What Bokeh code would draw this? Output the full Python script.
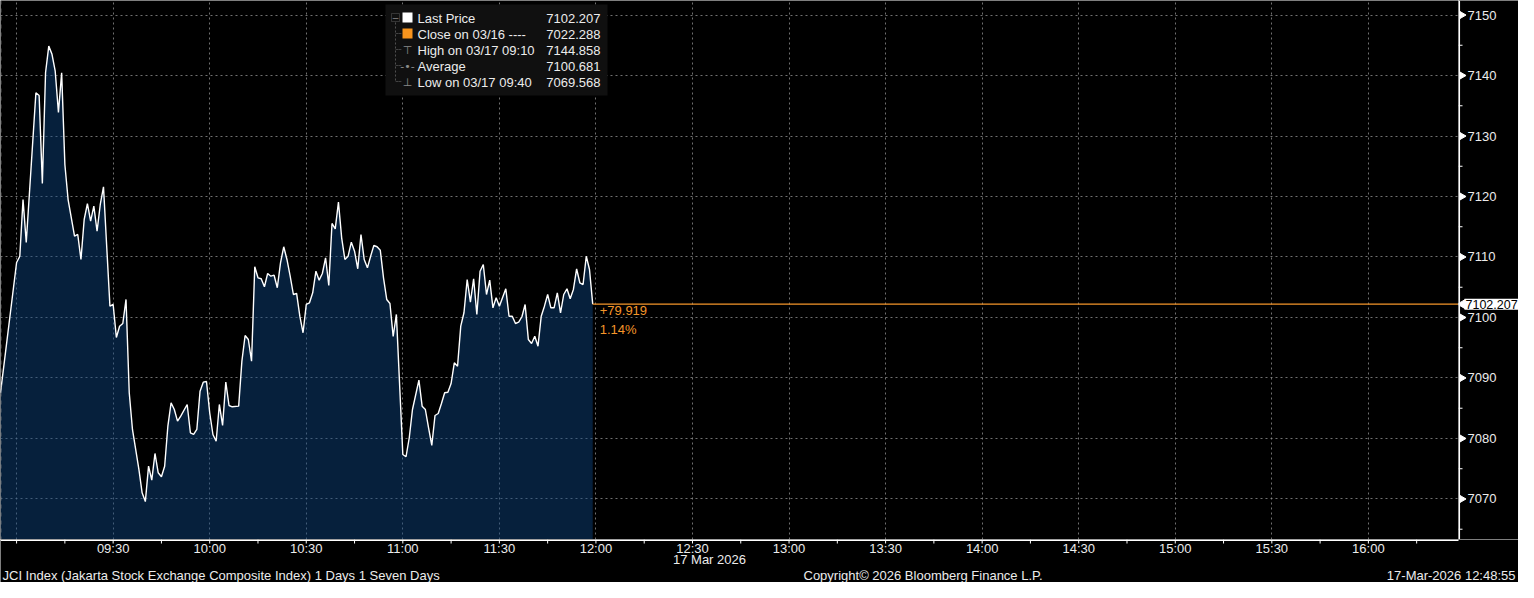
import math
from bokeh.plotting import figure
from bokeh.layouts import column, row
from bokeh.models import Range1d, FixedTicker, Label, BoxAnnotation, Span
from bokeh.core.properties import value
from bokeh.embed import file_html
from bokeh.resources import INLINE

# ---------------- data ----------------
TIMES = [
    "08:55", "09:00", "09:01", "09:02", "09:03",
    "09:06", "09:07", "09:08", "09:09", "09:10", "09:11", "09:12", "09:13", "09:14", "09:15", "09:16",
    "09:18", "09:19", "09:20", "09:21", "09:22", "09:23", "09:24", "09:25", "09:26", "09:27",
    "09:29", "09:30", "09:31", "09:32", "09:33", "09:34", "09:35", "09:36",
    "09:38", "09:39", "09:40", "09:41", "09:42", "09:43", "09:44", "09:45", "09:46", "09:47", "09:48", "09:49", "09:50", "09:51",
    "09:53", "09:54", "09:55", "09:56", "09:57", "09:58", "09:59", "10:00", "10:01", "10:02", "10:03", "10:04", "10:05", "10:06", "10:07",
    "10:09", "10:10", "10:11", "10:12", "10:13", "10:14", "10:15", "10:16", "10:17", "10:18", "10:19",
    "10:20", "10:21", "10:22", "10:23", "10:24", "10:25", "10:26", "10:27", "10:28", "10:29",
    "10:30", "10:31", "10:32", "10:33", "10:34", "10:35", "10:36", "10:37", "10:38", "10:39",
    "10:40", "10:41", "10:42", "10:43", "10:44", "10:45", "10:46", "10:47", "10:48", "10:49",
    "10:50", "10:51", "10:52", "10:53", "10:54", "10:55", "10:56", "10:57", "10:58",
    "11:00", "11:01", "11:02", "11:03",
    "11:05", "11:06", "11:07", "11:08", "11:09", "11:10", "11:11", "11:12", "11:13", "11:14", "11:15", "11:16", "11:17",
    "11:18", "11:19", "11:20", "11:21", "11:22", "11:23", "11:24", "11:25", "11:26", "11:27", "11:28", "11:29", "11:30",
    "11:32", "11:33", "11:34", "11:35", "11:36", "11:37", "11:38", "11:39", "11:40", "11:41", "11:42", "11:43", "11:44",
    "11:45", "11:46", "11:47", "11:48", "11:49", "11:50", "11:51", "11:52", "11:53", "11:54", "11:55", "11:56", "11:57",
    "11:58", "11:59",
]
PRICES = [
    7087.55, 7109.09, 7110.13, 7119.50, 7112.40,
    7137.14, 7136.69, 7122.15, 7140.50, 7144.858, 7143.50, 7140.71, 7133.88, 7140.45, 7125.29, 7119.50,
    7113.44, 7113.72, 7109.59, 7116.20, 7118.84, 7115.92, 7118.40, 7114.26, 7118.68, 7121.60,
    7101.87, 7102.15, 7096.69, 7098.56, 7099.01, 7102.98, 7087.55, 7081.49,
    7074.88, 7071.02, 7069.568, 7075.42, 7073.11, 7077.52, 7074.33, 7073.67, 7075.42, 7082.03, 7085.90, 7084.79, 7082.86, 7083.69,
    7085.62, 7080.94, 7080.66, 7081.49, 7087.82, 7089.31, 7089.42, 7084.25, 7080.66, 7079.55, 7085.62, 7082.15, 7089.31, 7085.45, 7085.24,
    7085.34, 7092.78, 7097.02, 7096.36, 7092.78, 7108.38, 7106.56, 7106.40, 7105.07, 7107.27, 7106.83,
    7106.99, 7104.91, 7109.04, 7111.69, 7109.59, 7106.83, 7103.80, 7103.97, 7100.21, 7097.47,
    7102.15, 7102.43, 7104.08, 7107.65, 7106.17, 7107.27, 7109.87, 7105.29, 7115.54, 7114.66,
    7119.06, 7113.17, 7109.59, 7110.13, 7112.45, 7110.96, 7108.05, 7113.72, 7109.59, 7108.21,
    7110.13, 7111.90, 7111.69, 7111.12, 7106.56, 7102.98, 7102.31, 7096.86, 7100.50,
    7077.36, 7076.98, 7080.12, 7084.79,
    7089.64, 7085.34, 7084.79, 7081.77, 7078.84, 7083.80, 7084.13, 7085.79, 7087.55, 7087.65, 7089.09, 7092.51, 7091.95,
    7098.56, 7100.78, 7106.28, 7102.53, 7106.40, 7100.50, 7107.65, 7108.76, 7103.80, 7106.17, 7101.60, 7103.26, 7101.87,
    7104.74, 7100.21, 7100.21, 7099.01, 7099.22, 7100.12, 7102.15, 7096.36, 7095.70, 7096.91, 7095.26, 7100.21, 7101.87,
    7103.80, 7101.60, 7101.60, 7104.08, 7100.78, 7103.80, 7104.74, 7103.09, 7104.63, 7108.05, 7105.74, 7105.45, 7110.13,
    7107.93, 7102.207,
]
PREV_CLOSE = 7022.288
AVERAGE = 7100.681
PREV_DATE = "03/16"
CUR_DATE = "03/17"
Y_TICKS = [7070, 7080, 7090, 7100, 7110, 7120, 7130, 7140, 7150]
Y_MINOR = [7065, 7075, 7085, 7095, 7105, 7115, 7125, 7135, 7145]
X_TICK_LABELS = ["09:00", "09:30", "10:00", "10:30", "11:00", "11:30", "12:00", "12:30",
                 "13:00", "13:30", "14:00", "14:30", "15:00", "15:30", "16:00"]
X_MINOR_LABELS = ["09:15", "09:45", "10:15", "10:45", "11:15", "11:45", "12:15", "12:45",
                  "13:15", "13:45", "14:15", "14:45", "15:15", "15:45", "16:15"]
DATE_TEXT = "17 Mar 2026"
DATE_AT = "12:30"
FOOT_LEFT = "JCI Index (Jakarta Stock Exchange Composite Index) 1 Days 1 Seven Days"
FOOT_MID = "Copyright\u00a9 2026 Bloomberg Finance L.P."
FOOT_RIGHT = "17-Mar-2026 12:48:55"
X_START, X_END = "08:55", "16:28"
Y_MIN, Y_MAX = 7063.3, 7152.4


def to_min(t):
    h, m = t.split(":")
    return (int(h) - 9) * 60 + int(m)


xs = [to_min(t) for t in TIMES]
n = min(len(xs), len(PRICES))
xs, ys = xs[:n], PRICES[:n]

# ---------------- layout sizes ----------------
W, H = 1518, 582
RW = 60            # right price-axis strip
FW = W - RW        # chart frame width
FH = 539           # chart height
BH = H - FH        # bottom band: time axis + date + footer (43)
FONT = "Liberation Sans"
SYM = "DejaVu Sans"
ORANGE = "#f5962a"
TXT = "#ececec"
FS = "13px"
X0, X1 = to_min(X_START), to_min(X_END)


def plain(width, height, **kw):
    fig = figure(width=width, height=height, output_backend="svg", toolbar_location=None,
                 x_axis_location=None, y_axis_location=None,
                 min_border_left=0, min_border_top=0, min_border_right=0, min_border_bottom=0,
                 background_fill_color="black", border_fill_color="black", outline_line_color=None, **kw)
    fig.xgrid.visible = False
    fig.ygrid.visible = False
    return fig


# ---------------- main chart ----------------
p = plain(FW, FH, x_range=Range1d(X0, X1), y_range=Range1d(Y_MIN, Y_MAX))
xt = [to_min(t) for t in X_TICK_LABELS]
p.xgrid[0].ticker = FixedTicker(ticks=xt)
p.ygrid[0].ticker = FixedTicker(ticks=Y_TICKS)
for g in (p.xgrid[0], p.ygrid[0]):
    g.visible = True
    g.grid_line_color = "#8c8c8c"
    g.grid_line_dash = "2 3"
    g.grid_line_alpha = 0.8

p.add_layout(Span(location=X0 + 0.1, dimension="height", line_color="#8c8c8c",
                  line_dash="4 4", line_width=1))

p.varea(x=xs, y1=Y_MIN, y2=ys, fill_color="#0e4684", fill_alpha=0.45)
p.line(xs, ys, line_color="white", line_width=1.4)

last = ys[-1]
p.line([xs[-1], X1], [last, last], line_color=ORANGE, line_width=1.2)
chg = last - PREV_CLOSE
pct = chg / PREV_CLOSE * 100
p.add_layout(Label(x=xs[-1], y=last, x_offset=7, y_offset=-2, text=f"{chg:+.3f}",
                   text_baseline="top", text_color=ORANGE, text_font=FONT, text_font_size=FS))
p.add_layout(Label(x=xs[-1], y=last, x_offset=7, y_offset=-18, text=f"{pct:.2f}%",
                   text_baseline="top", text_color=ORANGE, text_font=FONT, text_font_size=FS))

# legend box (screen units: y measured from bottom of frame)
scr = dict(left_units="screen", right_units="screen", top_units="screen", bottom_units="screen")
p.add_layout(BoxAnnotation(left=385, right=607, top=FH - 4, bottom=FH - 95, fill_color="#101010",
                           fill_alpha=1, line_color=None, **scr))
rows_y = [FH - 18 - 16 * i for i in range(5)]
hi_i = ys.index(max(ys))
lo_i = ys.index(min(ys))
entries = [
    ("Last Price", f"{last:.3f}"),
    (f"Close on {PREV_DATE} ----", f"{PREV_CLOSE:.3f}"),
    (f"High on {CUR_DATE} {TIMES[hi_i]}", f"{ys[hi_i]:.3f}"),
    ("Average", f"{AVERAGE:.3f}"),
    (f"Low on {CUR_DATE} {TIMES[lo_i]}", f"{ys[lo_i]:.3f}"),
]
for (name, val), ry in zip(entries, rows_y):
    p.add_layout(Label(x=417, y=ry, x_units="screen", y_units="screen", text=name,
                       text_baseline="middle", text_color=TXT, text_font=FONT, text_font_size=FS))
    p.add_layout(Label(x=600, y=ry, x_units="screen", y_units="screen", text=val, text_align="right",
                       text_baseline="middle", text_color=TXT, text_font=FONT, text_font_size=FS))

TREE = "#8a8a8a"
p.add_layout(BoxAnnotation(left=395, right=395, top=rows_y[0] - 4, bottom=rows_y[4] + 1,
                           fill_alpha=0, line_color=TREE, line_dash="2 2", **scr))
for ry in rows_y[1:]:
    p.add_layout(BoxAnnotation(left=395, right=401, top=ry + 1, bottom=ry + 1,
                               fill_alpha=0, line_color=TREE, line_dash="2 1", **scr))
p.add_layout(BoxAnnotation(left=391, right=399, top=rows_y[0] + 5, bottom=rows_y[0] - 3,
                           fill_color="#101010", fill_alpha=1, line_color=TREE, **scr))
p.add_layout(Label(x=395, y=rows_y[0] + 1, x_units="screen", y_units="screen", text="\u2212",
                   text_align="center", text_baseline="middle", text_color=TREE, text_font=SYM,
                   text_font_size="9px"))
for ry, col in ((rows_y[0], "white"), (rows_y[1], "#f7941d")):
    p.add_layout(BoxAnnotation(left=402, right=412, top=ry + 6, bottom=ry - 4,
                               fill_color=col, fill_alpha=1, line_color=None, **scr))
for ry, sym in ((rows_y[2], "\u22a4"), (rows_y[3], "-\u2022-"), (rows_y[4], "\u22a5")):
    p.add_layout(Label(x=407, y=ry, x_units="screen", y_units="screen", text=sym, text_align="center",
                       text_baseline="middle", text_color=TREE, text_font=SYM, text_font_size="11px"))

# ---------------- right price axis strip ----------------
r = plain(RW, FH, x_range=Range1d(0, RW), y_range=p.y_range)
r.add_layout(Span(location=0.8, dimension="height", line_color="white", line_width=1.5))
r.segment(x0=0, x1=4, y0=Y_MINOR, y1=Y_MINOR, line_color="white", line_width=1)
r.scatter(x=3.5, y=Y_TICKS, marker="triangle", angle=-math.pi / 2, size=7,
          fill_color="white", line_color="white")
r.text(x=9, y=Y_TICKS, text=[str(t) for t in Y_TICKS], text_font=value(FONT),
       text_font_size=value(FS), text_baseline="middle", text_color=TXT)
r.scatter(x=4, y=[last], marker="triangle", angle=math.pi / 2, size=9,
          fill_color="white", line_color="white")
r.add_layout(Label(x=6, y=last, text=f"{last:.3f}", text_baseline="middle", text_color="black",
                   text_font=FONT, text_font_size="12.5px", background_fill_color="white", padding=1))

# ---------------- bottom band: same minutes-per-pixel scale as the chart ----------------
b = plain(W, BH, x_range=Range1d(X0, X0 + (X1 - X0) * W / FW), y_range=Range1d(0, BH))
b.segment(x0=[X0], x1=[X1], y0=[BH - 0.8], y1=[BH - 0.8], line_color="white", line_width=1.5)
minor_x = [to_min(t) for t in X_MINOR_LABELS]
b.segment(x0=xt + minor_x, x1=xt + minor_x, y0=BH, y1=BH - 4, line_color="white", line_width=1)
b.text(x=xt[1:], y=BH - 9, text=X_TICK_LABELS[1:], text_font=value(FONT), text_font_size=value(FS),
       text_align="center", text_baseline="middle", text_color=TXT)
b.text(x=[to_min(DATE_AT)], y=BH - 20, text=[DATE_TEXT], x_offset=17, text_font=value(FONT),
       text_font_size=value(FS), text_align="center", text_baseline="middle", text_color=TXT)
for txt, xx, al in ((FOOT_LEFT, 2, "left"), (FOOT_MID, 803, "left"), (FOOT_RIGHT, W - 3, "right")):
    b.add_layout(Label(x=xx, y=7.5, x_units="screen", y_units="screen", text=txt, text_align=al,
                       text_baseline="middle", text_color=TXT, text_font=FONT, text_font_size="13px"))

layout = column(row(p, r, spacing=0), b, spacing=0)
open("out.html", "w").write(file_html(layout, INLINE))
